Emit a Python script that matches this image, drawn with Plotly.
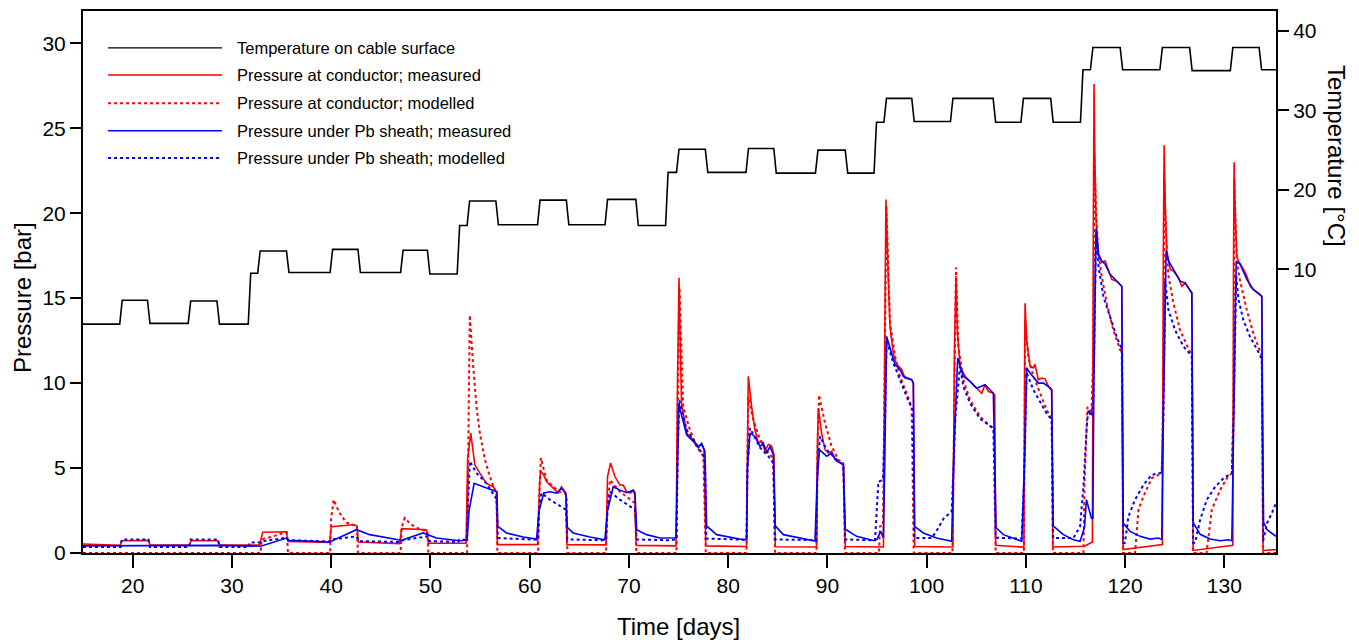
import plotly.graph_objects as go

# ---------------- data ----------------
temp_day = [15.0, 18.7, 18.95, 21.5, 21.75, 25.6, 25.85, 28.5, 28.75, 31.65, 31.9, 32.6, 32.85, 35.5, 35.75,
            39.9, 40.15, 42.7, 42.95, 47.0, 47.25, 49.7, 49.95, 52.7, 52.95, 53.7, 53.95, 56.6, 56.85,
            60.8, 61.05, 63.7, 63.95, 67.6, 67.85, 70.7, 70.95, 73.7, 73.95, 74.8, 75.05, 77.7, 77.95,
            81.8, 82.05, 84.6, 84.85, 88.8, 89.05, 91.8, 92.05, 94.7, 94.95, 95.7, 95.95, 98.5, 98.75,
            102.4, 102.65, 106.7, 106.95, 109.5, 109.75, 112.5, 112.75, 115.5, 115.75, 116.5, 116.75,
            119.5, 119.75, 123.5, 123.75, 126.5, 126.75, 130.6, 130.85, 133.5, 133.75, 135.2]
temp_c = [3.1, 3.1, 6.1, 6.1, 3.2, 3.2, 6.0, 6.0, 3.1, 3.1, 9.5, 9.5, 12.3, 12.3, 9.6,
          9.6, 12.5, 12.5, 9.6, 9.6, 12.4, 12.4, 9.4, 9.4, 15.5, 15.5, 18.6, 18.6, 15.6,
          15.6, 18.7, 18.7, 15.6, 15.6, 18.8, 18.8, 15.5, 15.5, 22.2, 22.2, 25.1, 25.1, 22.2,
          22.2, 25.2, 25.2, 22.1, 22.1, 25.0, 25.0, 22.1, 22.1, 28.5, 28.5, 31.5, 31.5, 28.6,
          28.6, 31.5, 31.5, 28.5, 28.5, 31.5, 31.5, 28.5, 28.5, 35.1, 35.1, 37.9,
          37.9, 35.1, 35.1, 37.9, 37.9, 35.0, 35.0, 37.9, 37.9, 35.1, 35.1]

cond_meas_day = [15.0, 18.6, 18.75, 18.9, 21.6, 21.75, 25.7, 25.9, 28.6, 28.75, 32.8, 33.1, 35.5, 35.65,
                 39.85, 40.0, 41.0, 42.2, 42.6, 42.75, 46.9, 47.1, 49.6, 49.8, 53.6,
                 53.75, 54.07, 54.48, 54.98, 55.65, 56.33, 56.66, 56.75, 60.8,
                 61.0, 61.1, 61.37, 61.7, 62.04, 62.54, 62.88, 63.21, 63.45, 63.65, 63.75, 67.7,
                 67.85, 68.15, 68.59, 69.1, 69.43, 69.77, 70.17, 70.44, 70.61, 70.75, 74.75,
                 74.9, 75.05, 75.2, 75.31, 75.82, 76.49, 76.99, 77.33, 77.56, 77.75, 81.85,
                 81.95, 82.03, 82.37, 82.7, 83.04, 83.38, 83.71, 84.05, 84.38, 84.62, 84.75, 88.9,
                 89.0, 89.09, 89.42, 89.76, 90.1, 90.43, 90.77, 91.27, 91.61, 91.8, 95.65,
                 95.8, 95.9, 96.14, 96.31, 96.64, 96.98, 97.48, 97.82, 98.49, 98.66, 98.8, 102.65,
                 102.8, 102.96, 103.09, 103.36, 103.87, 104.37, 105.04, 105.55, 105.88, 106.22, 106.72, 106.86, 106.95, 109.8,
                 109.88, 109.92, 110.08, 110.42, 110.76, 110.92, 111.26, 111.6, 111.93, 112.27, 112.6, 112.72,
                 115.9, 116.7,
                 116.8, 116.87, 116.95, 117.07, 117.31, 117.64, 117.98, 118.32, 118.65, 119.16, 119.66, 119.8, 123.75,
                 123.85, 123.93, 124.03, 124.2, 124.53, 124.87, 125.37, 125.71, 126.04, 126.38, 126.72, 126.85, 130.85,
                 130.92, 130.98, 131.08, 131.25, 131.59, 131.92, 132.26, 132.6, 132.93, 133.44, 133.77, 133.9, 135.2]
cond_meas_bar = [0.53, 0.47, 0.45, 0.72, 0.74, 0.47, 0.47, 0.73, 0.72, 0.47, 0.47, 1.22, 1.25, 0.68,
                 0.62, 1.55, 1.58, 1.66, 1.6, 0.65, 0.55, 1.43, 1.37, 0.57, 0.58,
                 5.5, 7.06, 5.19, 4.7, 4.1, 3.9, 3.6, 0.49, 0.5,
                 4.0, 4.8, 4.65, 4.2, 4.0, 3.7, 3.53, 3.9, 3.7, 3.4, 0.49, 0.48,
                 4.5, 5.29, 4.5, 4.0, 4.0, 3.6, 3.53, 3.7, 3.4, 0.45, 0.42,
                 10.0, 16.2, 11.5, 8.8, 7.06, 6.67, 6.27, 6.4, 6.08, 0.42, 0.38,
                 7.5, 10.4, 8.6, 7.25, 6.47, 6.57, 6.0, 6.4, 6.3, 5.78, 0.37, 0.35,
                 6.5, 8.53, 7.06, 6.08, 5.88, 5.98, 5.49, 5.29, 5.2, 0.38, 0.35,
                 14.0, 20.8, 16.1, 13.3, 11.76, 11.1, 10.8, 10.3, 10.2, 10.0, 0.38, 0.35,
                 12.0, 16.3, 13.1, 11.0, 10.4, 10.1, 9.7, 9.4, 9.9, 9.5, 9.4, 9.3, 0.45, 0.35,
                 12.0, 14.7, 12.5, 11.0, 10.9, 11.1, 10.2, 10.3, 10.25, 9.8, 9.6, 0.35,
                 0.4, 0.65,
                 20.0, 27.6, 23.1, 19.6, 17.5, 17.1, 17.2, 16.7, 16.1, 16.0, 15.7, 0.2, 0.5,
                 18.0, 24.0, 20.6, 17.8, 16.7, 16.6, 16.2, 15.7, 15.9, 15.6, 15.3, 0.15, 0.45,
                 17.0, 23.0, 20.2, 17.4, 17.0, 16.7, 16.3, 15.7, 15.5, 15.3, 15.1, 0.15, 0.2]

cond_mod_day = [15.0, 32.9, 33.0, 34.0, 35.2, 35.55, 35.65, 39.9, 40.0, 40.25, 40.8, 41.5, 42.2, 42.6, 42.7,
                47.0, 47.1, 47.42, 48.0, 48.93, 49.7, 49.8, 53.7,
                53.8, 53.97, 54.31, 54.65, 54.98, 55.49, 55.99, 56.49, 56.66, 56.75, 60.85,
                60.95, 61.13, 61.7, 62.37, 63.05, 63.55, 63.72, 63.8, 67.7,
                67.8, 68.09, 69.1, 70.1, 70.61, 70.75, 74.8,
                74.9, 75.1, 75.48, 76.15, 76.82, 77.5, 77.75, 81.85,
                81.95, 82.03, 82.54, 83.21, 84.05, 84.55, 84.72, 88.9,
                89.0, 89.16, 89.76, 90.43, 91.1, 91.61, 91.78, 95.2, 95.3, 95.6,
                95.8, 95.95, 96.31, 96.81, 97.31, 97.99, 98.49, 98.7, 102.6,
                102.8, 102.96, 103.19, 103.7, 104.37, 105.38, 106.39, 106.86, 106.95, 109.8,
                109.88, 109.92, 110.25, 110.76, 111.43, 112.1, 112.6, 112.72, 115.8, 115.9, 116.2, 116.6, 116.8,
                116.9, 117.07, 117.31, 117.64, 118.15, 118.82, 119.49, 119.7, 119.8, 121.0, 121.34, 121.84, 122.68, 123.69, 123.85,
                123.95, 124.13, 124.36, 124.87, 125.54, 126.38, 126.72, 126.85, 128.2, 128.73, 129.57, 130.25, 130.75, 130.92,
                131.0, 131.25, 131.59, 132.26, 132.93, 133.77, 133.9, 135.2]
cond_mod_bar = [0.0, 0.0, 0.8, 0.95, 1.18, 1.2, 0.0, 0.0, 2.0, 3.14, 2.4, 1.8, 1.66, 1.6, 0.0,
                0.0, 1.5, 2.06, 1.7, 1.4, 1.3, 0.0, 0.0,
                5.0, 14.0, 11.0, 8.6, 7.06, 5.5, 4.5, 3.7, 3.6, 0.0, 0.0,
                3.0, 5.59, 4.3, 3.9, 3.6, 3.5, 3.4, 0.0, 0.0,
                2.5, 4.3, 3.6, 3.14, 2.94, 0.0, 0.0,
                8.0, 15.6, 8.6, 7.25, 6.27, 5.7, 0.0, 0.0,
                6.0, 9.2, 7.84, 6.67, 5.88, 5.59, 0.0, 0.0,
                6.0, 9.3, 7.65, 6.27, 5.49, 5.29, 0.0, 0.0, 1.57, 1.6,
                12.0, 20.4, 13.6, 11.6, 10.4, 9.4, 8.53, 0.0, 0.0,
                10.0, 16.8, 12.2, 10.2, 9.0, 8.04, 7.45, 7.4, 0.0, 0.0,
                8.0, 13.7, 11.5, 10.4, 9.4, 8.43, 7.85, 0.0, 0.0, 4.0, 8.6, 8.2, 12.0,
                23.5, 20.2, 17.6, 16.3, 14.7, 13.1, 11.96, 11.8, 0.0, 0.0, 2.55, 3.33, 4.4, 4.7, 10.0,
                22.0, 18.6, 16.3, 14.7, 13.1, 11.96, 11.6, 0.0, 0.0, 2.55, 3.7, 4.4, 4.7, 9.0,
                22.0, 17.1, 16.0, 14.3, 12.9, 11.6, 0.0, 0.0]

sheath_meas_day = [15.0, 18.8, 21.6, 25.7, 28.6, 32.9, 35.5, 35.7, 39.85, 42.55, 43.89, 46.75, 47.1, 49.27, 50.61, 52.96, 53.7,
                   53.9, 54.41, 55.32, 56.33, 56.7, 56.8, 57.67, 59.35, 60.7,
                   60.95, 61.43, 62.04, 62.71, 63.21, 63.65, 63.8, 64.39, 66.07, 67.58,
                   67.85, 68.42, 69.1, 69.77, 70.44, 70.61, 70.78, 71.78, 73.13, 74.3, 74.75,
                   74.9, 75.04, 75.82, 76.49, 76.99, 77.33, 77.66, 77.83, 78.84, 80.52, 81.53, 81.86,
                   81.95, 82.2, 82.7, 83.21, 83.54, 83.88, 84.22, 84.55, 84.75, 85.56, 87.24, 88.75,
                   88.95, 89.19, 89.93, 90.43, 90.94, 91.61, 91.8, 92.95, 94.63, 95.0, 95.37, 95.64,
                   95.8, 95.97, 96.47, 96.81, 97.31, 97.65, 98.49, 98.66, 98.78, 99.67, 101.0, 102.52,
                   102.75, 103.13, 103.7, 104.37, 105.04, 105.88, 106.72, 106.99, 107.73, 108.74, 109.58,
                   109.9, 110.08, 110.42, 110.92, 111.26, 111.76, 112.27, 112.6, 112.75, 113.78, 114.79, 115.46, 115.9, 116.1, 116.6, 116.75,
                   116.85, 117.07, 117.31, 117.64, 117.98, 118.48, 119.16, 119.66, 119.8, 120.5, 121.51, 122.5, 123.36, 123.69,
                   123.85, 124.13, 124.36, 124.87, 125.54, 126.04, 126.72, 126.85, 127.56, 128.56, 129.57, 130.41, 130.75,
                   130.95, 131.19, 131.59, 131.92, 132.26, 132.93, 133.77, 133.85, 133.95, 134.3, 134.95, 135.2]
sheath_meas_bar = [0.42, 0.42, 0.46, 0.42, 0.45, 0.40, 0.88, 0.75, 0.65, 1.37, 1.08, 0.78, 0.75, 1.18, 0.88, 0.72, 0.75,
                   2.5, 4.1, 3.9, 3.7, 3.6, 1.57, 1.18, 0.94, 0.82,
                   2.5, 3.53, 3.6, 3.53, 3.8, 3.53, 1.5, 1.18, 0.94, 0.78,
                   2.5, 3.9, 3.7, 3.55, 3.7, 3.53, 1.37, 1.08, 0.88, 0.88, 0.9,
                   5.0, 8.72, 6.96, 6.57, 6.2, 6.45, 6.0, 1.6, 1.08, 0.88, 0.78, 0.8,
                   5.0, 7.06, 6.86, 6.27, 6.47, 5.88, 6.27, 5.78, 1.6, 1.08, 0.88, 0.7,
                   4.0, 6.08, 5.7, 5.88, 5.4, 5.2, 1.4, 0.98, 0.74, 0.8, 1.27, 0.9,
                   6.0, 12.74, 11.76, 11.1, 10.8, 10.4, 10.2, 10.0, 1.57, 1.18, 0.88, 0.69,
                   6.0, 11.47, 10.4, 10.1, 9.7, 9.9, 9.4, 1.5, 1.08, 0.88, 0.69,
                   6.0, 10.9, 10.6, 10.2, 10.0, 10.0, 9.8, 9.6, 1.6, 1.08, 0.78, 0.69, 1.5, 3.14, 2.06, 2.0,
                   10.0, 19.1, 17.6, 17.2, 17.0, 16.4, 16.0, 15.7, 1.76, 1.27, 0.98, 0.82, 0.88, 0.8,
                   8.0, 17.8, 17.2, 16.7, 16.0, 15.9, 15.3, 1.8, 1.1, 0.82, 0.72, 0.78, 0.72,
                   8.0, 17.15, 17.0, 16.5, 16.1, 15.5, 15.1, 7.5, 1.8, 1.37, 1.08, 0.98]

sheath_mod_day = [15.0, 18.8, 18.9, 21.6, 21.75, 25.7, 25.85, 28.6, 28.75, 31.7, 31.8, 32.9, 33.2, 35.5, 35.7,
                  39.9, 40.1, 42.55, 42.8, 46.9, 47.2, 49.7, 49.9, 52.8, 52.9, 53.65,
                  53.8, 53.97, 54.65, 55.65, 56.49, 56.66, 56.8, 60.85,
                  60.95, 61.2, 62.04, 63.05, 63.65, 63.8, 67.7,
                  67.85, 68.09, 69.1, 70.1, 70.61, 70.78, 74.0, 74.8,
                  74.92, 75.08, 75.82, 76.82, 77.66, 77.8, 81.85,
                  81.95, 82.2, 83.21, 84.05, 84.55, 84.72, 88.9,
                  89.0, 89.26, 89.93, 90.94, 91.61, 91.78, 94.8, 95.14, 95.6,
                  95.8, 95.97, 96.64, 97.31, 97.99, 98.59, 98.76, 100.5, 101.0, 101.67, 102.52, 102.7,
                  102.9, 103.36, 103.7, 104.37, 105.38, 106.72, 106.95, 109.58, 109.8,
                  110.08, 110.76, 111.43, 112.1, 112.6, 112.75, 114.79, 115.46, 115.8, 116.13, 116.3, 116.6, 116.8,
                  117.07, 117.31, 117.81, 118.48, 119.16, 119.66, 119.8, 119.99, 120.33, 121.0, 121.84, 122.68, 123.69, 123.85,
                  124.03, 124.36, 125.04, 125.88, 126.72, 126.85, 127.05, 127.56, 128.23, 129.07, 129.91, 130.75, 130.92,
                  131.19, 131.42, 131.92, 132.6, 133.27, 133.77, 133.9, 134.3, 134.78, 135.2]
sheath_mod_bar = [0.35, 0.35, 0.8, 0.8, 0.35, 0.35, 0.8, 0.8, 0.35, 0.35, 0.62, 0.62, 0.7, 0.9, 0.75,
                  0.68, 0.8, 0.98, 0.7, 0.65, 0.75, 0.98, 0.7, 0.65, 0.78, 0.78,
                  3.0, 5.4, 4.7, 4.1, 3.33, 3.2, 0.88, 0.78,
                  2.5, 3.53, 3.14, 2.74, 2.55, 0.8, 0.75,
                  2.5, 3.6, 3.14, 2.74, 2.55, 0.8, 0.75, 0.8,
                  6.0, 9.0, 7.25, 6.37, 5.59, 0.85, 0.78,
                  5.0, 7.35, 6.2, 5.7, 5.29, 0.8, 0.75,
                  5.0, 6.86, 6.08, 5.49, 5.2, 0.8, 0.75, 4.2, 4.3,
                  8.0, 12.5, 11.2, 10.2, 9.2, 8.43, 0.88, 0.88, 1.3, 2.0, 2.45, 5.0,
                  8.0, 11.0, 9.8, 8.82, 7.9, 7.35, 0.9, 0.85, 4.0,
                  10.6, 9.6, 8.9, 8.2, 7.85, 0.88, 0.88, 1.57, 3.9, 7.45, 8.43, 8.04, 9.0,
                  18.9, 16.9, 15.1, 13.9, 12.7, 12.0, 0.58, 0.6, 2.15, 3.14, 4.0, 4.6, 4.73, 8.0,
                  16.0, 14.3, 13.1, 12.15, 11.6, 0.6, 0.6, 1.96, 3.14, 3.9, 4.4, 4.7, 8.0,
                  16.3, 14.9, 13.7, 12.7, 12.0, 11.4, 0.7, 1.76, 2.35, 2.94]

series_names = ["Temperature on cable surface",
                "Pressure at conductor; measured",
                "Pressure at conductor; modelled",
                "Pressure under Pb sheath; measured",
                "Pressure under Pb sheath; modelled"]
series_colors = ["black", "#ff0000", "#ff0000", "#0000ff", "#0000ff"]
series_dash = ["solid", "solid", "dot", "solid", "dot"]

x_ticks = [20, 30, 40, 50, 60, 70, 80, 90, 100, 110, 120, 130]
p_ticks = [0, 5, 10, 15, 20, 25, 30]
t_ticks = [10, 20, 30, 40]

FONT = "Arial, Liberation Sans, sans-serif"

fig = go.Figure()
fig.add_trace(go.Scatter(x=temp_day, y=temp_c, yaxis="y2", mode="lines", name=series_names[0],
                         line=dict(color=series_colors[0], width=1.6, dash=series_dash[0])))
fig.add_trace(go.Scatter(x=cond_meas_day, y=cond_meas_bar, mode="lines", name=series_names[1],
                         line=dict(color=series_colors[1], width=1.6, dash=series_dash[1])))
fig.add_trace(go.Scatter(x=cond_mod_day, y=cond_mod_bar, mode="lines", name=series_names[2],
                         line=dict(color=series_colors[2], width=2, dash=series_dash[2])))
fig.add_trace(go.Scatter(x=sheath_meas_day, y=sheath_meas_bar, mode="lines", name=series_names[3],
                         line=dict(color=series_colors[3], width=1.6, dash=series_dash[3])))
fig.add_trace(go.Scatter(x=sheath_mod_day, y=sheath_mod_bar, mode="lines", name=series_names[4],
                         line=dict(color=series_colors[4], width=2, dash=series_dash[4])))

# hand-made legend (long line samples like the original)
leg_y = [0.932, 0.882, 0.830, 0.779, 0.729]
shapes = []
annotations = []
for i in range(5):
    shapes.append(dict(type="line", xref="paper", yref="paper", x0=0.021, x1=0.1165, y0=leg_y[i], y1=leg_y[i],
                       line=dict(color=series_colors[i], width=1.2 if i == 0 else (2 if series_dash[i] == "dot" else 1.6),
                                 dash=series_dash[i])))
    annotations.append(dict(xref="paper", yref="paper", x=0.127, y=leg_y[i], text=series_names[i],
                            showarrow=False, xanchor="left", yanchor="middle",
                            font=dict(family=FONT, size=16.5, color="black")))

annotations.append(dict(xref="paper", yref="paper", x=0.4995, y=-0.135, text="Time [days]", showarrow=False,
                        xanchor="center", yanchor="middle", font=dict(family=FONT, size=24, color="black")))
annotations.append(dict(xref="paper", yref="paper", x=-0.0507, y=0.4714, text="Pressure [bar]", showarrow=False,
                        textangle=-90, xanchor="center", yanchor="middle",
                        font=dict(family=FONT, size=24, color="black")))
annotations.append(dict(xref="paper", yref="paper", x=1.0503, y=0.7325, text="Temperature [°C]", showarrow=False,
                        textangle=90, xanchor="center", yanchor="middle",
                        font=dict(family=FONT, size=24, color="black")))

# page body adds an 8 px offset, so the figure is 8 px smaller each way
fig.update_layout(
    width=1351, height=636,
    margin=dict(l=75, r=83, t=3, b=91),
    paper_bgcolor="white", plot_bgcolor="white",
    showlegend=False,
    font=dict(family=FONT, size=21, color="black"),
    xaxis=dict(range=[15, 135.2], tickvals=x_ticks, ticks="outside", ticklen=13, tickwidth=2,
               tickcolor="black", showline=True, linecolor="black", linewidth=2, mirror=True,
               showgrid=False, zeroline=False, tickfont=dict(size=21), automargin=False),
    yaxis=dict(range=[0, 31.9], tickvals=p_ticks, ticks="outside", ticklen=11, tickwidth=2,
               tickcolor="black", showline=True, linecolor="black", linewidth=2,
               showgrid=False, zeroline=False, tickfont=dict(size=21), automargin=False),
    yaxis2=dict(range=[-25.7, 42.5], tickvals=t_ticks, overlaying="y", side="right", ticks="outside",
                ticklen=11, tickwidth=2, tickcolor="black", showline=True, linecolor="black", linewidth=2,
                showgrid=False, zeroline=False, tickfont=dict(size=21), automargin=False),
    shapes=shapes,
    annotations=annotations,
)

fig.write_html("out.html")
